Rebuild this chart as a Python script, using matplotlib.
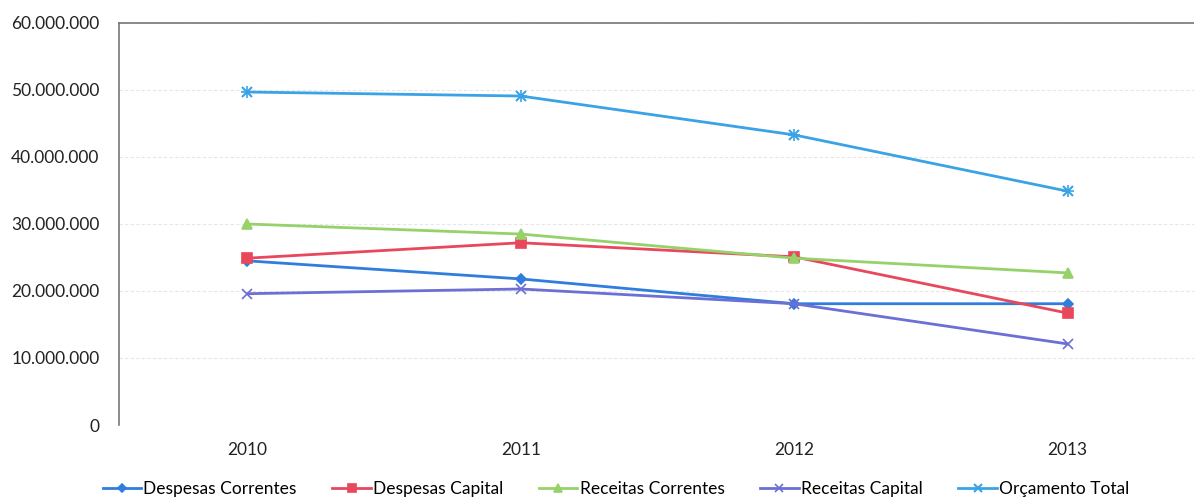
import matplotlib
matplotlib.use("Agg")
import matplotlib.pyplot as plt
from matplotlib.ticker import FuncFormatter

plt.rcParams['font.family'] = ['Lato', 'DejaVu Sans']

anos = ["2010", "2011", "2012", "2013"]
desp_correntes = [24.5e6, 21.8e6, 18.1e6, 18.1e6]
desp_capital = [24.9e6, 27.2e6, 25.1e6, 16.7e6]
rec_correntes = [30.0e6, 28.5e6, 24.9e6, 22.7e6]
rec_capital = [19.6e6, 20.3e6, 18.1e6, 12.1e6]
orc_total = [49.7e6, 49.1e6, 43.3e6, 34.9e6]

series = [
    ("Despesas Correntes", desp_correntes, "#2f7ddc", "D", 5),
    ("Despesas Capital", desp_capital, "#e8475c", "s", 7),
    ("Receitas Correntes", rec_correntes, "#96d16a", "^", 7),
    ("Receitas Capital", rec_capital, "#6c6fd4", "x", 7),
    ("Orçamento Total", orc_total, "#3aa3e6", "*", 0),
]

fig = plt.figure(figsize=(11.94, 4.99), dpi=100)
ax = fig.add_axes([119/1194, 1-425/499, 1.02-119/1194, (425-23)/499])

x = range(len(anos))
for nome, vals, cor, mk, ms in series:
    if nome == "Orçamento Total":
        ax.plot(x, vals, color=cor, lw=2, marker="x", ms=7, mew=1.5, label=nome)
        ax.plot(x, vals, color=cor, lw=0, marker="+", ms=8, mew=1.2)
    else:
        ax.plot(x, vals, color=cor, lw=2, marker=mk, ms=ms, mew=1.2, label=nome)

ax.set_ylim(0, 60e6)
ax.set_yticks(range(0, 60000001, 10000000))
ax.yaxis.set_major_formatter(FuncFormatter(lambda v, p: f"{int(v):,}".replace(",", ".")))
ax.set_xlim(-0.47, 3.55)
ax.set_xticks(list(x))
ax.set_xticklabels(anos)
ax.tick_params(axis="both", length=0, labelsize=12.5, colors="#222222")
ax.tick_params(axis="y", pad=14)
ax.tick_params(axis="x", pad=12)
ax.grid(axis="y", color="#e6e6e6", lw=0.8, ls=(0, (3, 2)))
ax.set_axisbelow(True)
for s in ["left", "top"]:
    ax.spines[s].set_color("#777777")
    ax.spines[s].set_linewidth(1.2)
ax.spines["right"].set_visible(False)
ax.spines["bottom"].set_visible(False)

leg = fig.legend(loc="center", bbox_to_anchor=(0.516, 0.02), ncol=5, frameon=False,
                 fontsize=12.5, handlelength=2.2, columnspacing=2.05, handletextpad=0.15,
                 markerscale=0.8)

fig.savefig("out.png", dpi=100)
